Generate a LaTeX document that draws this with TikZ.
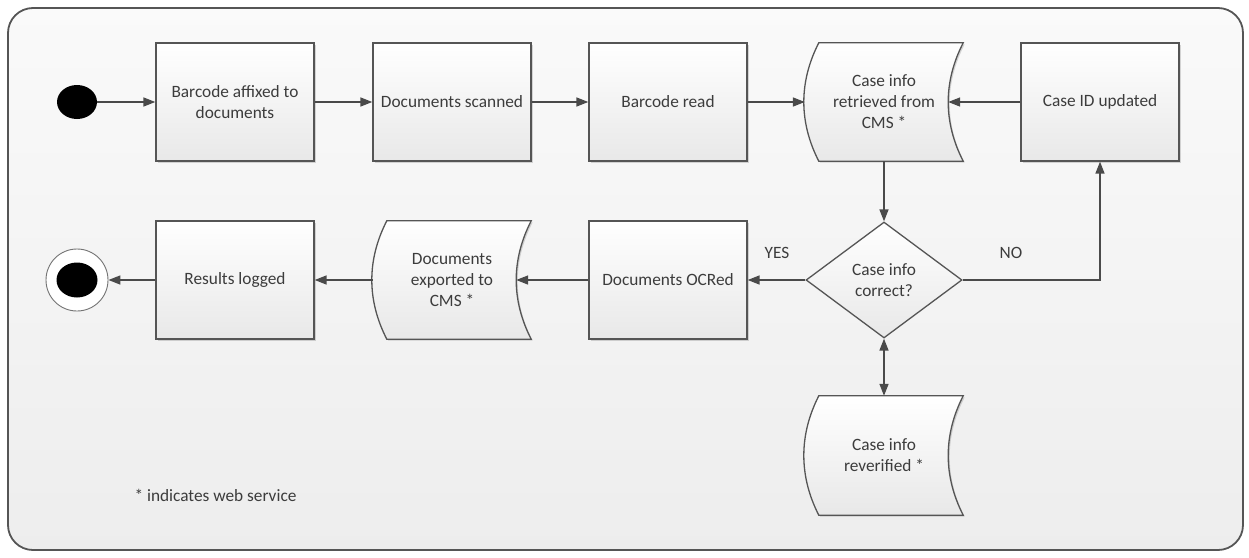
\documentclass[tikz,border=0pt]{standalone}
\usepackage{fontspec}
\setmainfont{Carlito}
\usetikzlibrary{arrows.meta,shapes.geometric,shadows}
\definecolor{txt}{HTML}{3C3C3C}
\definecolor{ln}{HTML}{4A4A4A}
\definecolor{bd}{HTML}{555555}
\definecolor{frm}{HTML}{555555}
\pgfdeclarelayer{bg}\pgfdeclarelayer{shp}\pgfsetlayers{bg,shp,main}
\tikzset{
 lbl/.style={text=txt, font=\fontsize{17.3}{21}\selectfont},
 box/.style={lbl, draw=bd, line width=1.3pt, top color=white, bottom color=black!9,
   minimum width=158pt, minimum height=118pt, inner sep=0pt, align=center,
   drop shadow={shadow xshift=1.5pt, shadow yshift=-1.5pt, opacity=0.15, fill=black}},
 docnode/.style={lbl, minimum width=158pt, minimum height=118pt, inner sep=0pt, align=center},
 docline/.style={draw=bd, line width=1.3pt, top color=white, bottom color=black!9,
   drop shadow={shadow xshift=1.5pt, shadow yshift=-1.5pt, opacity=0.15, fill=black}},
 decision/.style={lbl, diamond, draw=bd, line width=1.3pt, top color=white, bottom color=black!9,
   minimum width=156pt, minimum height=116pt, inner sep=0pt, align=center},
 conn/.style={draw=ln, line width=1.6pt, -{Triangle[length=12pt,width=9pt]}},
 dconn/.style={draw=ln, line width=1.6pt, {Triangle[length=12pt,width=9pt]}-{Triangle[length=12pt,width=9pt]}},
}
\newcommand\mydocshape[1]{%
 \begin{pgfonlayer}{shp}
 \path[docline] ([xshift=14pt]#1.north west) -- (#1.north east)
   .. controls ([xshift=-20pt,yshift=-39pt]#1.north east) and ([xshift=-20pt,yshift=39pt]#1.south east) .. (#1.south east)
   -- ([xshift=14pt]#1.south west)
   .. controls ([xshift=-6pt,yshift=39pt]#1.south west) and ([xshift=-6pt,yshift=-39pt]#1.north west) .. cycle;
 \end{pgfonlayer}}
\begin{document}
\begin{tikzpicture}[x=1pt,y=-1pt]
\useasboundingbox (0,0) rectangle (1249,557);
\begin{pgfonlayer}{bg}
\path[draw=frm, line width=1.8pt, rounded corners=25pt, top color=black!2, bottom color=black!7] (8,8) rectangle (1243,550);
\end{pgfonlayer}
% top row
\node[ellipse, fill=black, minimum width=40pt, minimum height=34pt, inner sep=0pt] (start) at (77,102) {};
\node[box] (b1) at (235,102) {Barcode affixed to\\documents};
\node[box] (b2) at (452,102) {Documents scanned};
\node[box] (b3) at (668,102) {Barcode read};
\node[docnode] (ret) at (884,102) {Case info\\retrieved from\\CMS *};
\mydocshape{ret}
\coordinate (retr) at ([xshift=-15pt]ret.east);
\node[box] (cid) at (1100,102) {Case ID updated};
% middle row
\node[decision] (dec) at (884,280) {Case info\\correct?};
\node[box] (ocr) at (668,280) {Documents OCRed};
\node[docnode] (exp) at (452,280) {Documents\\exported to\\CMS *};
\mydocshape{exp}
\coordinate (expr) at ([xshift=-15pt]exp.east);
\node[box] (res) at (235,280) {Results logged};
\node[circle, draw=black!55, line width=0.9pt, fill=white, minimum size=62pt, inner sep=0pt] (end) at (77,280) {};
\node[ellipse, fill=black, minimum width=41pt, minimum height=35pt, inner sep=0pt] (endin) at (end.center) {};
% bottom
\node[docnode, minimum height=119pt] (rev) at (884,455.5) {Case info\\reverified *};
\mydocshape{rev}
\node[lbl, anchor=west] (legend) at (131,495) {* indicates web service};
\node[lbl] (yes) at (777,253) {YES};
\node[lbl] (no) at (1011,253) {NO};
% connectors
\draw[conn] (start) -- (b1);
\draw[conn] (b1) -- (b2);
\draw[conn] (b2) -- (b3);
\draw[conn] (b3) -- (ret.west);
\draw[conn] (cid) -- (retr);
\draw[conn] (ret) -- (dec);
\draw[conn] (dec.east) -| (cid.south);
\draw[conn] (dec) -- (ocr);
\draw[conn] (ocr) -- (expr);
\draw[conn] (exp.west) -- (res);
\draw[conn] (res) -- (end);
\draw[dconn] (dec) -- (rev);
\end{tikzpicture}
\end{document}
